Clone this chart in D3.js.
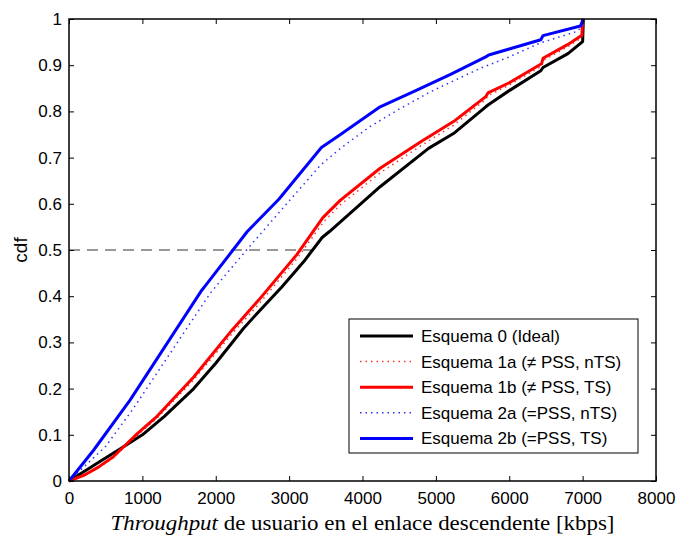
<!DOCTYPE html>
<html>
<head>
<meta charset="utf-8">
<script src="https://cdn.jsdelivr.net/npm/d3@7"></script>
<style>
  body { margin: 0; background: #fff; }
  svg { display: block; }
  text { font-family: "Liberation Sans", Arial, sans-serif; }
</style>
</head>
<body>
<div id="chart"></div>
<script>
// Series data (throughput in kbps, cdf)
var x0 = [0, 200, 400, 700, 1000, 1300, 1700, 2000, 2377, 2582, 2900, 3200, 3450, 3550, 4240, 4900, 5240, 5680, 5720, 6000, 6430, 6460, 6800, 7000, 7010];
var y0 = [0, 0.02, 0.04, 0.07, 0.1, 0.14, 0.2, 0.255, 0.33, 0.366, 0.42, 0.475, 0.527, 0.54, 0.637, 0.72, 0.752, 0.81, 0.815, 0.845, 0.888, 0.895, 0.925, 0.951, 1.0];

var x1a = [0, 200, 400, 600, 900, 1200, 1700, 2218, 2582, 3105, 3470, 3700, 4240, 4800, 5240, 5680, 5710, 6000, 6440, 6460, 6800, 6990, 7000];
var y1a = [0, 0.011, 0.028, 0.05, 0.095, 0.136, 0.219, 0.318, 0.382, 0.481, 0.561, 0.598, 0.667, 0.726, 0.77, 0.826, 0.834, 0.857, 0.898, 0.91, 0.94, 0.96, 1.0];

var x1b = [0, 200, 400, 600, 900, 1200, 1700, 2218, 2582, 3105, 3460, 3700, 4240, 4800, 5240, 5680, 5710, 6000, 6440, 6460, 6800, 6990, 7000];
var y1b = [0, 0.012, 0.03, 0.052, 0.098, 0.14, 0.225, 0.326, 0.391, 0.49, 0.57, 0.608, 0.677, 0.735, 0.778, 0.832, 0.840, 0.862, 0.903, 0.915, 0.945, 0.965, 1.0];

var x2a = [0, 200, 500, 877, 1923, 2100, 2420, 3010, 3430, 3700, 4100, 4500, 4920, 5600, 6000, 6420, 6920, 7000, 7010];
var y2a = [0, 0.03, 0.075, 0.157, 0.406, 0.44, 0.50, 0.608, 0.684, 0.72, 0.767, 0.805, 0.842, 0.893, 0.918, 0.948, 0.973, 0.985, 1.0];

var x2b = [0, 332, 832, 1810, 1870, 2430, 2860, 3440, 3700, 4240, 4740, 5200, 5680, 5720, 6000, 6430, 6460, 6970, 7010];
var y2b = [0, 0.066, 0.175, 0.413, 0.425, 0.54, 0.61, 0.722, 0.75, 0.81, 0.846, 0.88, 0.918, 0.922, 0.935, 0.955, 0.964, 0.985, 1.0];

var seriesNames = ["Esquema 0 (Ideal)", "Esquema 1a (\u2260 PSS, nTS)", "Esquema 1b (\u2260 PSS, TS)", "Esquema 2a (=PSS, nTS)", "Esquema 2b (=PSS, TS)"];
var xTicks = [0, 1000, 2000, 3000, 4000, 5000, 6000, 7000, 8000];
var yTicks = [0, 0.1, 0.2, 0.3, 0.4, 0.5, 0.6, 0.7, 0.8, 0.9, 1];
var refLineX = [0, 3330];
var refLineY = [0.5, 0.5];

function zip(xs, ys) {
    return xs.map(function (d, i) { return { x: d, y: ys[i] }; });
}

var series = [
    { name: seriesNames[0], data: zip(x0, y0), color: "#000000", width: 3, dash: null },
    { name: seriesNames[1], data: zip(x1a, y1a), color: "#ff3030", width: 1.5, dash: "1.5,4" },
    { name: seriesNames[2], data: zip(x1b, y1b), color: "#ff0000", width: 3, dash: null },
    { name: seriesNames[3], data: zip(x2a, y2a), color: "#3030ff", width: 1.5, dash: "1.5,4" },
    { name: seriesNames[4], data: zip(x2b, y2b), color: "#0000ff", width: 3, dash: null }
];

var margin = { top: 19, right: 22, bottom: 57, left: 69 };
var width = 678 - margin.left - margin.right;
var height = 538 - margin.top - margin.bottom;

var svg = d3.select("#chart")
    .append("svg")
    .attr("width", 678)
    .attr("height", 538);

var g = svg.append("g")
    .attr("transform", "translate(" + margin.left + "," + margin.top + ")");

var xScale = d3.scaleLinear().domain([0, 8000]).range([0, width]);
var yScale = d3.scaleLinear().domain([0, 1]).range([height, 0]);

var line = d3.line()
    .x(function (d) { return xScale(d.x); })
    .y(function (d) { return yScale(d.y); });

// Reference dashed line at cdf 0.5
g.append("path")
    .datum(zip(refLineX, refLineY))
    .attr("fill", "none")
    .attr("stroke", "#333")
    .attr("stroke-width", 1)
    .attr("stroke-dasharray", "11,7")
    .attr("d", line);

// Curves
series.forEach(function (s) {
    g.append("path")
        .datum(s.data)
        .attr("fill", "none")
        .attr("stroke", s.color)
        .attr("stroke-width", s.width)
        .attr("stroke-linejoin", "round")
        .attr("stroke-dasharray", s.dash)
        .attr("d", line);
});

// Axes (ticks inside, on all four sides)
var tickLen = 5;
g.append("g")
    .attr("transform", "translate(0," + height + ")")
    .call(d3.axisBottom(xScale).tickValues(xTicks).tickSizeInner(-tickLen).tickSizeOuter(0).tickPadding(11).tickFormat(d3.format("d")))
    .call(function (a) { a.select(".domain").remove(); });

g.append("g")
    .call(d3.axisTop(xScale).tickValues(xTicks).tickSizeInner(-tickLen).tickSizeOuter(0).tickFormat(""))
    .call(function (a) { a.select(".domain").remove(); });

g.append("g")
    .call(d3.axisLeft(yScale).tickValues(yTicks).tickSizeInner(-tickLen).tickSizeOuter(0).tickPadding(7).tickFormat(d3.format("")))
    .call(function (a) { a.select(".domain").remove(); });

g.append("g")
    .attr("transform", "translate(" + width + ",0)")
    .call(d3.axisRight(yScale).tickValues(yTicks).tickSizeInner(-tickLen).tickSizeOuter(0).tickFormat(""))
    .call(function (a) { a.select(".domain").remove(); });

g.selectAll(".tick line").attr("stroke", "#000").attr("stroke-width", 1);
g.selectAll(".tick text")
    .style("font-size", "17px")
    .style("font-family", "'Liberation Sans', Arial, sans-serif")
    .attr("fill", "#000");

// Frame
g.append("rect")
    .attr("width", width)
    .attr("height", height)
    .attr("fill", "none")
    .attr("stroke", "#000")
    .attr("stroke-width", 1.5);

// Y label
svg.append("text")
    .attr("transform", "translate(27," + (margin.top + height / 2) + ") rotate(-90)")
    .attr("text-anchor", "middle")
    .style("font-size", "19px")
    .text("cdf");

// X label (serif, with italic Throughput)
var xl = svg.append("text")
    .attr("x", margin.left + width / 2)
    .attr("y", 530)
    .attr("text-anchor", "middle")
    .attr("textLength", 504)
    .attr("lengthAdjust", "spacingAndGlyphs")
    .style("font-family", "'Liberation Serif', 'Times New Roman', serif")
    .style("font-size", "20px");
xl.append("tspan").style("font-style", "italic").text("Throughput");
xl.append("tspan").text(" de usuario en el enlace descendente [kbps]");

// Legend
var legend = g.append("g")
    .attr("transform", "translate(" + (349 - margin.left) + "," + (319 - margin.top) + ")");

legend.append("rect")
    .attr("width", 289)
    .attr("height", 134)
    .attr("fill", "#fff")
    .attr("stroke", "#000")
    .attr("stroke-width", 1);

series.forEach(function (s, i) {
    var yy = 17 + i * 25.6;
    legend.append("line")
        .attr("x1", 11).attr("x2", 64)
        .attr("y1", yy).attr("y2", yy)
        .attr("stroke", s.color)
        .attr("stroke-width", s.width)
        .attr("stroke-dasharray", s.dash);
    legend.append("text")
        .attr("x", 72)
        .attr("y", yy)
        .attr("dy", "0.35em")
        .style("font-size", "17px")
        .text(s.name);
});
</script>
</body>
</html>
